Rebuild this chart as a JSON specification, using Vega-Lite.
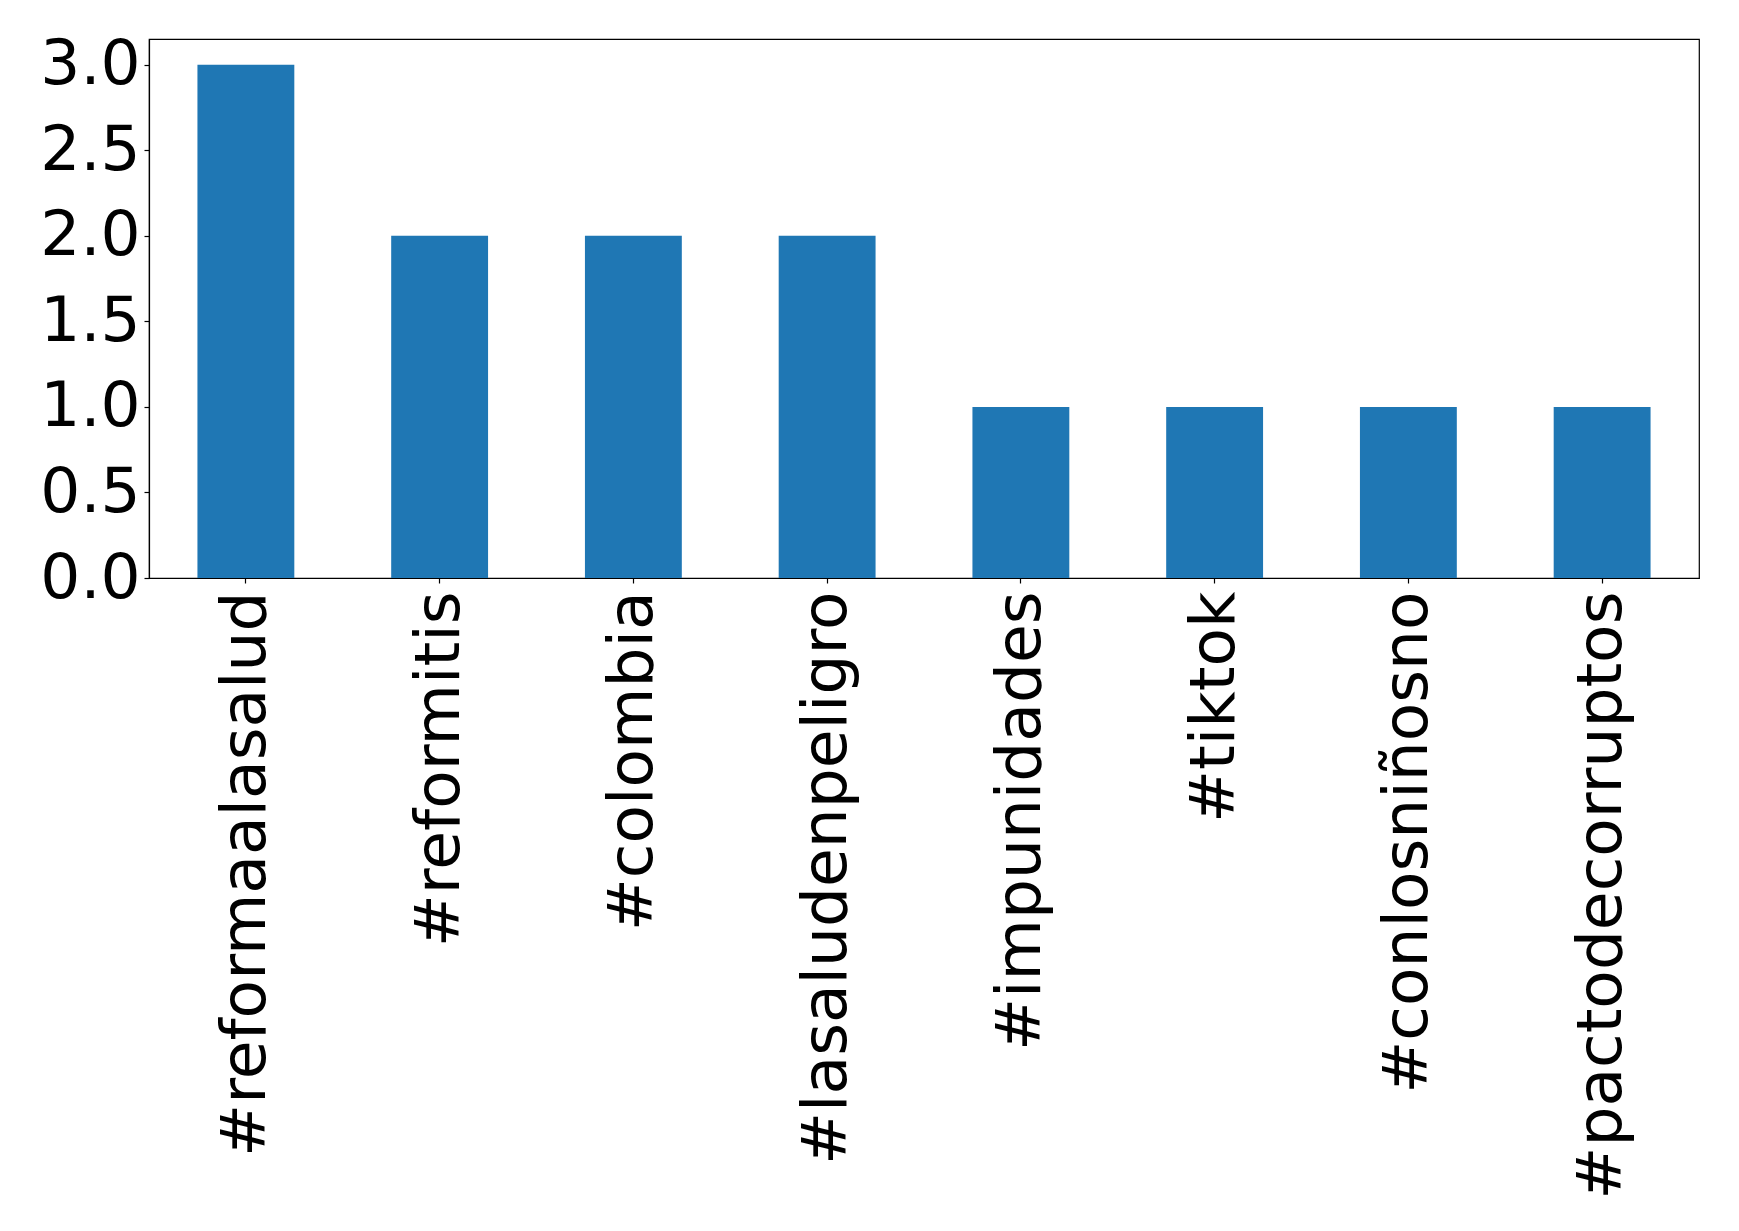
{
  "$schema": "https://vega.github.io/schema/vega-lite/v6.json",
  "autosize": "none",
  "width": 1550,
  "height": 539,
  "padding": {"left": 149, "top": 39, "right": 40, "bottom": 653},
  "background": "white",
  "data": {"values": [
    {"hashtag": "#reformaalasalud", "count": 3},
    {"hashtag": "#reformitis", "count": 2},
    {"hashtag": "#colombia", "count": 2},
    {"hashtag": "#lasaludenpeligro", "count": 2},
    {"hashtag": "#impunidades", "count": 1},
    {"hashtag": "#tiktok", "count": 1},
    {"hashtag": "#conlosniñosno", "count": 1},
    {"hashtag": "#pactodecorruptos", "count": 1}
  ]},
  "config": {
    "view": {"stroke": "black", "strokeWidth": 1.2},
    "font": "DejaVu Sans",
    "axis": {
      "labelFont": "DejaVu Sans",
      "labelFontSize": 63,
      "labelColor": "black",
      "domainColor": "black",
      "tickColor": "black",
      "tickSize": 5,
      "tickWidth": 1.2,
      "domainWidth": 1.2,
      "grid": false,
      "title": null
    }
  },
  "mark": {"type": "bar", "color": "#1f77b4"},
  "encoding": {
    "x": {
      "field": "hashtag",
      "type": "nominal",
      "sort": null,
      "scale": {"paddingInner": 0.5, "paddingOuter": 0.25},
      "axis": {"labelAngle": -90, "labelPadding": 8, "labelLimit": 0, "labelOverlap": false}
    },
    "y": {
      "field": "count",
      "type": "quantitative",
      "scale": {"domain": [0, 3.15], "nice": false, "zero": true},
      "axis": {"values": [0, 0.5, 1, 1.5, 2, 2.5, 3], "format": ".1f", "labelPadding": 4}
    }
  }
}
